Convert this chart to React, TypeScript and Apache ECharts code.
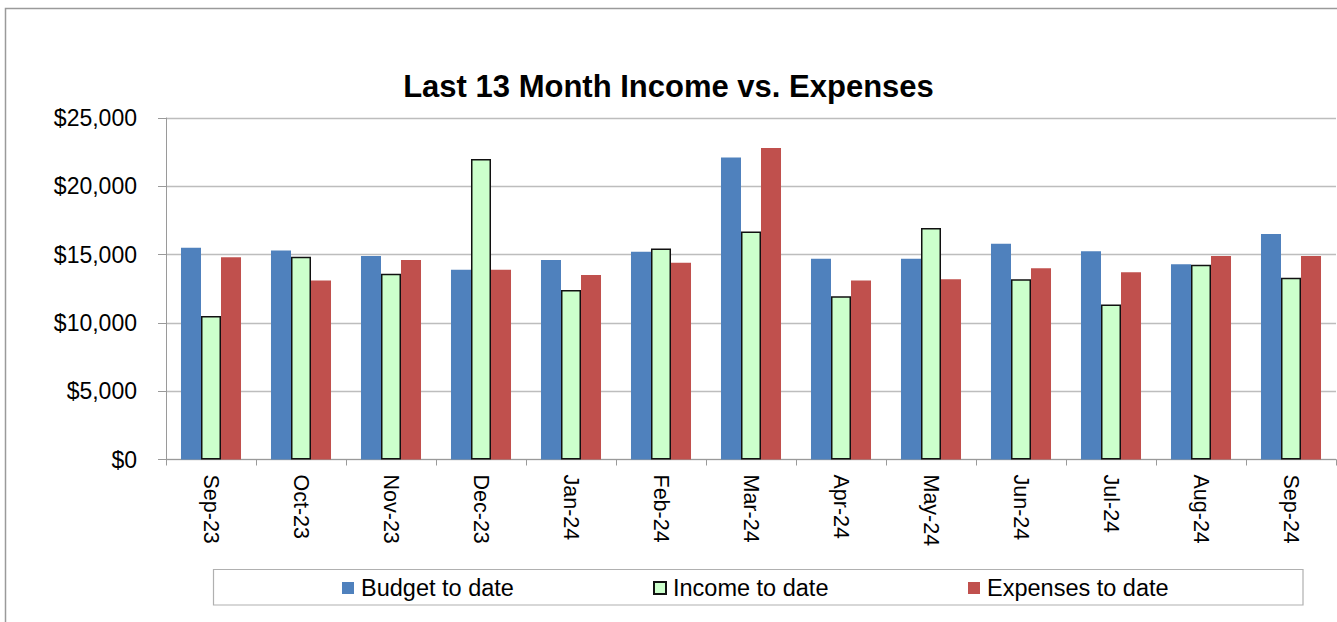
import React, { useEffect, useRef } from "react";
import * as echarts from "echarts";

const months = ["Sep-23", "Oct-23", "Nov-23", "Dec-23", "Jan-24", "Feb-24", "Mar-24", "Apr-24", "May-24", "Jun-24", "Jul-24", "Aug-24", "Sep-24"];
const budget = [15500, 15300, 14900, 13900, 14600, 15200, 22100, 14700, 14700, 15800, 15250, 14300, 16500];
const income = [10500, 14850, 13600, 22000, 12400, 15450, 16700, 11950, 16950, 13200, 11350, 14250, 13300];
const expenses = [14800, 13100, 14600, 13900, 13500, 14400, 22800, 13100, 13200, 14000, 13700, 14900, 14900];
const seriesNames = ["Budget to date", "Income to date", "Expenses to date"];
const titleText = "Last 13 Month Income vs. Expenses";

const FONT = "'Liberation Sans', Arial, sans-serif";

function fmtDollar(v: number): string {
  return "$" + String(Math.round(v)).replace(/\B(?=(\d{3})+(?!\d))/g, ",");
}

export default function App() {
  const ref = useRef<HTMLDivElement | null>(null);
  useEffect(() => {
    if (!ref.current) return;
    const chart = echarts.init(ref.current, null, { renderer: "svg" });
    const legendText = { fontSize: 23.5, color: "#000", fontFamily: FONT, padding: [0, 0, 0, 2] };
    const option: any = {
      animation: false,
      backgroundColor: "#fff",
      textStyle: { fontFamily: FONT },
      title: {
        text: titleText,
        left: "center",
        top: 71,
        padding: 0,
        textStyle: { fontSize: 31, fontWeight: "bold", color: "#000", fontFamily: FONT },
      },
      legend: [
        { data: [seriesNames[0]], left: 342, top: 576, itemWidth: 12, itemHeight: 12, icon: "rect", textStyle: legendText, padding: 0 },
        { data: [seriesNames[1]], left: 653, top: 576, itemWidth: 12, itemHeight: 12, icon: "rect", textStyle: legendText, padding: 0 },
        { data: [seriesNames[2]], left: 968, top: 576, itemWidth: 12, itemHeight: 12, icon: "rect", textStyle: legendText, padding: 0 },
      ],
      grid: { left: 166, right: 1, top: 118, bottom: 162.5, containLabel: false },
      xAxis: {
        type: "category",
        data: months,
        boundaryGap: true,
        axisLine: { show: true, lineStyle: { color: "#9a9a9a", width: 1 } },
        axisTick: { show: true, length: 6, lineStyle: { color: "#9a9a9a" } },
        axisLabel: { rotate: -90, margin: 15, fontSize: 21.5, color: "#000", fontFamily: FONT, interval: 0 },
      },
      yAxis: {
        type: "value",
        min: 0,
        max: 25000,
        interval: 5000,
        axisLine: { show: true, lineStyle: { color: "#9a9a9a", width: 1 } },
        axisTick: { show: true, length: 8, lineStyle: { color: "#9a9a9a" } },
        splitLine: { show: true, lineStyle: { color: "#bdbdbd", width: 1.3 } },
        axisLabel: { fontSize: 23, color: "#000", fontFamily: FONT, margin: 29, formatter: (v: number) => fmtDollar(v) },
      },
      series: [
        {
          name: seriesNames[0],
          type: "bar",
          data: budget,
          barGap: "0%",
          barCategoryGap: "33.3%",
          itemStyle: { color: "#4F81BD" },
        },
        {
          name: seriesNames[1],
          type: "bar",
          data: income,
          barGap: "0%",
          barCategoryGap: "33.3%",
          itemStyle: { color: "#CCFFCC", borderColor: "#111", borderWidth: 1.5 },
        },
        {
          name: seriesNames[2],
          type: "bar",
          data: expenses,
          barGap: "0%",
          barCategoryGap: "33.3%",
          itemStyle: { color: "#C0504D" },
        },
      ],
      graphic: [
        {
          type: "rect",
          shape: { x: 5.5, y: 8.5, width: 1400, height: 700 },
          style: { fill: "none", stroke: "#9a9a9a", lineWidth: 1.5 },
          silent: true,
          z: -10,
        },
        {
          type: "rect",
          shape: { x: 213.5, y: 569.5, width: 1089.5, height: 35.5 },
          style: { fill: "none", stroke: "#b0b0b0", lineWidth: 1.2 },
          silent: true,
        },
      ],
    };
    chart.setOption(option);
    return () => {
      chart.dispose();
    };
  }, []);
  return (
    <div
      ref={ref}
      style={{ position: "fixed", left: 0, top: 0, width: 1337, height: 622, background: "#fff" }}
    />
  );
}
